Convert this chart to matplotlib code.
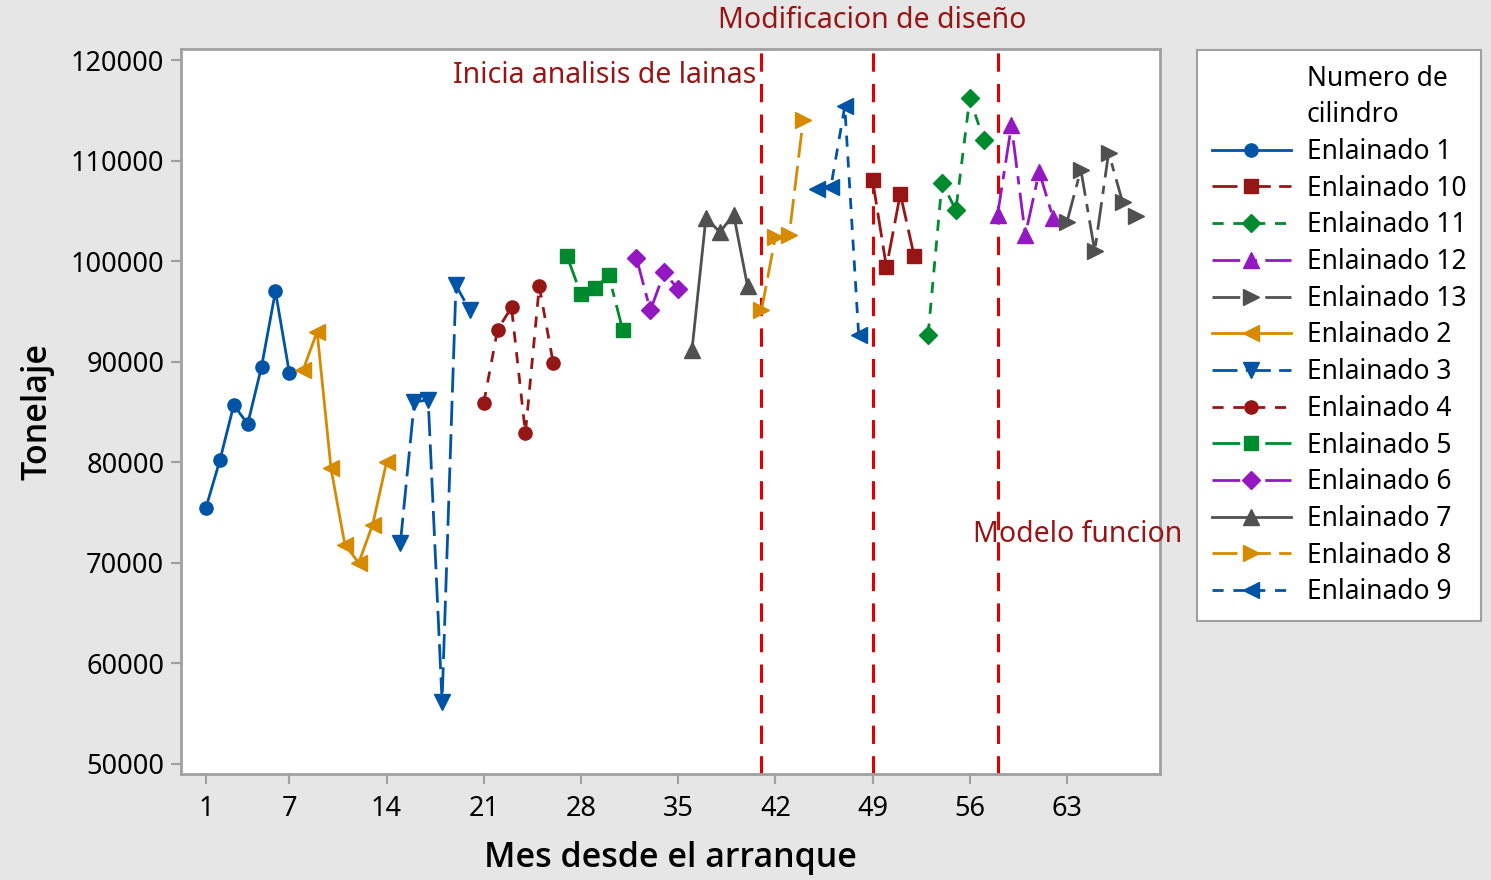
import numpy as np
import matplotlib.pyplot as plt
from matplotlib.lines import Line2D
from matplotlib.transforms import blended_transform_factory

plt.rcParams['font.family'] = ['Noto Sans', 'DejaVu Sans']

# Data (month, tonnage) per liner set
m1 = [1, 2, 3, 4, 5, 6, 7]
t1 = [75500, 80200, 85700, 83800, 89500, 97000, 88900]
m2 = [8, 9, 10, 11, 12, 13, 14]
t2 = [89200, 93000, 79400, 71800, 70000, 73800, 80000]
m3 = [15, 16, 17, 18, 19, 20]
t3 = [72000, 86000, 86200, 56200, 97600, 95100]
m4 = [21, 22, 23, 24, 25, 26]
t4 = [85900, 93200, 95400, 82900, 97500, 89900]
m5 = [27, 28, 29, 30, 31]
t5 = [100500, 96700, 97300, 98600, 93200]
m6 = [32, 33, 34, 35]
t6 = [100300, 95100, 98900, 97200]
m7 = [36, 37, 38, 39, 40]
t7 = [91200, 104300, 102900, 104600, 97500]
m8 = [41, 42, 43, 44]
t8 = [95100, 102400, 102600, 114000]
m9 = [45, 46, 47, 48]
t9 = [107200, 107400, 115400, 92700]
m10 = [49, 50, 51, 52]
t10 = [108100, 99400, 106700, 100500]
m11 = [53, 54, 55, 56, 57]
t11 = [92700, 107800, 105100, 116200, 112100]
m12 = [58, 59, 60, 61, 62]
t12 = [104600, 113500, 102600, 108900, 104300]
m13 = [63, 64, 65, 66, 67, 68]
t13 = [103900, 109100, 101000, 110800, 105900, 104500]

event_months = [41, 49, 58]
xticks = [1, 7, 14, 21, 28, 35, 42, 49, 56, 63]

blue = '#0054a6'
red = '#961616'
green = '#008a2e'
purple = '#9418c2'
gray = '#505050'
orange = '#d68a00'

solid = '-'
longdash = (0, (9, 3))
dash = (0, (4, 3.5))
longshort = (0, (10, 3, 3, 3))

series = [
    ('Enlainado 1', m1, t1, blue, 'o', solid, 9.5),
    ('Enlainado 10', m10, t10, red, 's', longdash, 9.5),
    ('Enlainado 11', m11, t11, green, 'D', dash, 9),
    ('Enlainado 12', m12, t12, purple, '^', longshort, 11.5),
    ('Enlainado 13', m13, t13, gray, '>', longshort, 11.5),
    ('Enlainado 2', m2, t2, orange, '<', solid, 11.5),
    ('Enlainado 3', m3, t3, blue, 'v', longdash, 11.5),
    ('Enlainado 4', m4, t4, red, 'o', dash, 9.5),
    ('Enlainado 5', m5, t5, green, 's', longshort, 9.5),
    ('Enlainado 6', m6, t6, purple, 'D', longshort, 9),
    ('Enlainado 7', m7, t7, gray, '^', solid, 11.5),
    ('Enlainado 8', m8, t8, orange, '>', longdash, 11.5),
    ('Enlainado 9', m9, t9, blue, '<', dash, 11.5),
]

fig = plt.figure(figsize=(14.91, 8.80), dpi=100, facecolor='#e6e6e6')
ax = fig.add_axes([0.1214, 0.1205, 0.6566, 0.8238])
ax.set_facecolor('white')

handles = [Line2D([], [], linestyle='none'), Line2D([], [], linestyle='none')]
labels = ['Numero de', 'cilindro']
for name, mx, ty, col, mk, ls, ms in series:
    h, = ax.plot(mx, ty, color=col, marker=mk, linestyle=ls, linewidth=2,
                 markersize=ms, zorder=3)
    handles.append(h)
    labels.append(name)

for m in event_months:
    ax.axvline(m, color='#e00000', linestyle=(0, (6, 4)), linewidth=2.2, zorder=2)

ax.set_xlim(-0.8, 69.7)
ax.set_ylim(49000, 121100)
ax.set_xticks(xticks)
ax.set_yticks(np.arange(50000, 120001, 10000))
ax.tick_params(axis='both', direction='out', length=7, width=1.5, color='#a0a0a0',
               labelsize=19.5, pad=5)
ax.tick_params(axis='x', pad=8)
for s in ax.spines.values():
    s.set_color('#a0a0a0')
    s.set_linewidth(2)

lab_font = ['Open Sans', 'Noto Sans', 'DejaVu Sans']
ax.set_xlabel('Mes desde el arranque', fontsize=24.5, family=lab_font,
              fontweight='semibold', labelpad=13)
ax.set_ylabel('Tonelaje', fontsize=24.5, family=lab_font,
              fontweight='semibold', labelpad=12)

tr = blended_transform_factory(ax.transData, ax.transAxes)
ann = '#961616'
ax.text(event_months[1], 1.040, 'Modificacion de diseño', transform=tr, ha='center',
        va='center', fontsize=20.5, color=ann, clip_on=False)
ax.text(event_months[0] - 0.4, 0.964, 'Inicia analisis de lainas', transform=tr,
        ha='right', va='center', fontsize=20.5, color=ann)
ax.text(event_months[2] - 1.8, 0.331, 'Modelo funcion', transform=tr, ha='left',
        va='center', fontsize=20.5, color=ann, clip_on=False, zorder=10)

leg = fig.legend(handles, labels, loc='upper left',
                 bbox_to_anchor=(1197 / 1491, 1 - 50 / 880), borderaxespad=0,
                 fontsize=19, handlelength=3.0, labelspacing=0.33, handletextpad=0.6,
                 borderpad=0.55, fancybox=False, framealpha=1, edgecolor='#a0a0a0')
leg.get_frame().set_linewidth(1.5)
leg.set_zorder(5)

fig.savefig('out.png', dpi=100, facecolor=fig.get_facecolor())
